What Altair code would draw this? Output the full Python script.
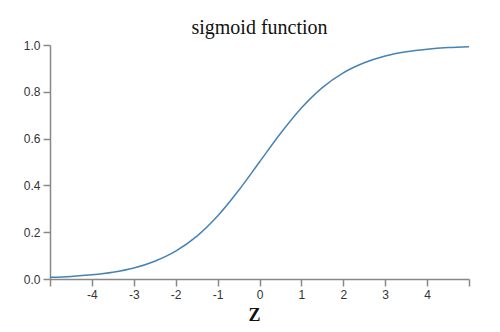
import altair as alt
import pandas as pd

# values
z_values = [-5.0, -4.5, -4.0, -3.5, -3.0, -2.5, -2.0, -1.5, -1.0, -0.5, 0.0,
            0.5, 1.0, 1.5, 2.0, 2.5, 3.0, 3.5, 4.0, 4.5, 5.0]
s_values = [0.007, 0.011, 0.018, 0.029, 0.047, 0.076, 0.119, 0.182, 0.269, 0.378, 0.500,
            0.622, 0.731, 0.818, 0.881, 0.924, 0.953, 0.971, 0.982, 0.989, 0.993]
x_ticks = [-5, -4, -3, -2, -1, 0, 1, 2, 3, 4, 5]
y_ticks = [0.0, 0.2, 0.4, 0.6, 0.8, 1.0]

df = pd.DataFrame({"z": z_values, "s": s_values})

axis_common = dict(
    grid=False,
    domainColor="#888888",
    domainWidth=1.5,
    tickColor="#888888",
    tickWidth=1.5,
    tickSize=7,
    labelFont="Liberation Sans",
    labelFontSize=12,
    labelColor="#333333",
    labelPadding=3,
)

chart = alt.Chart(df).mark_line(
    color="#4682b4", strokeWidth=1.5, interpolate="monotone"
).encode(
    x=alt.X("z:Q", scale=alt.Scale(domain=[-5, 5], nice=False, zero=False),
            axis=alt.Axis(values=x_ticks, title="Z",
                          labelExpr="(datum.value <= -5 || datum.value >= 5) ? '' : '' + datum.value",
                          titleFont="Liberation Serif", titleFontSize=18, titleFontWeight="bold",
                          titleColor="#111111", titleX=204, titleY=41, titleBaseline="alphabetic",
                          labelFlush=False, **axis_common)),
    y=alt.Y("s:Q", scale=alt.Scale(domain=[0, 1], nice=False),
            axis=alt.Axis(values=y_ticks, title=None, format=".1f", **axis_common)),
).properties(
    width=419,
    height=234,
    title=alt.TitleParams("sigmoid function", font="Liberation Serif", fontSize=20,
                          fontWeight="normal", color="#111111", anchor="middle",
                          baseline="alphabetic", offset=8, dy=23),
    autosize=alt.AutoSizeParams(type="none"),
    padding={"left": 50, "top": 45, "right": 31, "bottom": 53},
).configure_view(stroke=None)

chart.save("out.html", embed_options={"renderer": "svg", "actions": False})
